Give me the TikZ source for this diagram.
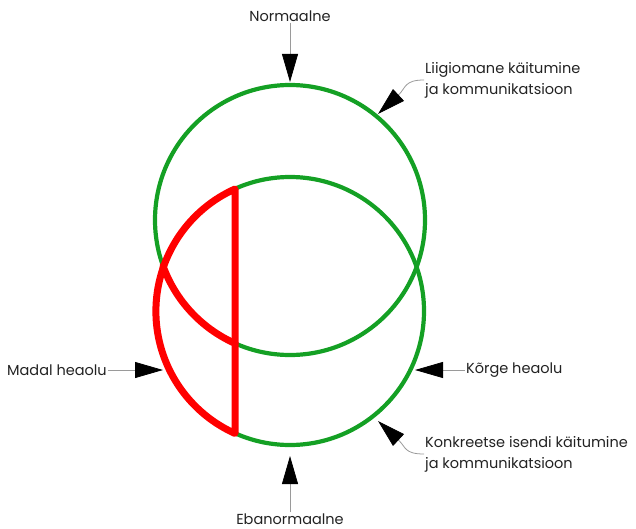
\documentclass[tikz,border=0pt]{standalone}
\usepackage{fontspec}
\setmainfont{Poppins}
\usetikzlibrary{arrows.meta}
\definecolor{ringgreen}{HTML}{14A024}
\definecolor{ringred}{HTML}{FF0000}
\definecolor{labelgray}{HTML}{222222}
\definecolor{leadgray}{HTML}{9A9A9A}

\begin{document}
\begin{tikzpicture}[x=1pt,y=-1pt,
  ring/.style={ringgreen,line width=4.2pt},
  hot/.style={ringred,line width=7pt,line join=round,line cap=round},
  lbl/.style={font=\fontsize{14.5}{21}\selectfont,text=labelgray,inner sep=1pt,align=left},
  pointer/.style={leadgray,line width=0.8pt,-{Triangle[length=28pt,width=16pt,black]}}]
\useasboundingbox (0,0) rectangle (636,529);
% the two circles
\coordinate (cUp) at (290,220);
\coordinate (cLow) at (290,311);
\draw[ring] (cUp) circle[radius=135];
\draw[ring] (cLow) circle[radius=134];
% red part
\coordinate (redTop) at (235,189);
\coordinate (redCut) at (163,266);
\draw[hot] (redTop) arc[start angle=245.8,end angle=114.2,radius=134] -- cycle;
\draw[hot] (redCut) arc[start angle=160.1,end angle=114.0,radius=135];
% labels and pointers
\node[lbl] (normaalne) at (290,16) {Normaalne};
\coordinate (normTip) at (290,82);
\draw[pointer] (normaalne) -- (normTip);
\node[lbl] (ebanormaalne) at (290,519) {Ebanormaalne};
\coordinate (ebaTip) at (290,456);
\draw[pointer] (ebanormaalne) -- (ebaTip);
\node[lbl,anchor=west] (madal) at (6,370) {Madal heaolu};
\coordinate (madalTip) at (163,370);
\draw[pointer] (madal) -- (madalTip);
\node[lbl,anchor=west] (korge) at (465,370) {Kõrge heaolu};
\coordinate (korgeTip) at (415,370);
\draw[pointer] (korge) -- (korgeTip);
\node[lbl,anchor=west] (liigi) at (424,80) {Liigiomane käitumine\\ja kommunikatsioon};
\coordinate (liigiTip) at (378,114);
\draw[pointer] (liigi.west) .. controls +(-20,0) and +(28,-26) .. (liigiTip);
\node[lbl,anchor=west] (konkreetse) at (424,454) {Konkreetse isendi käitumine\\ja kommunikatsioon};
\coordinate (konkTip) at (378,421);
\draw[pointer] (konkreetse.west) .. controls +(-20,0) and +(28,26) .. (konkTip);
\end{tikzpicture}
\end{document}
